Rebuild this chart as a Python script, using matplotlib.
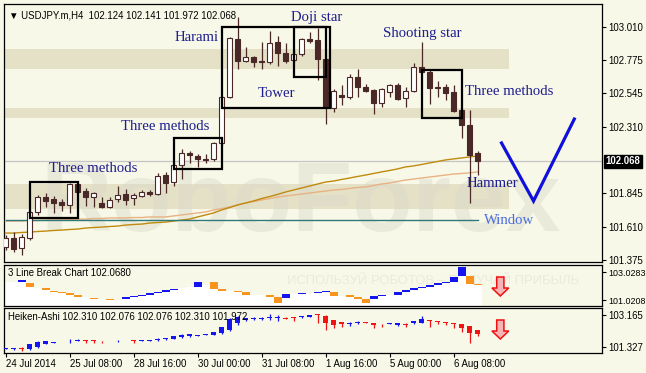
import numpy as np
import matplotlib.pyplot as plt
from matplotlib.patches import Rectangle, Polygon
from matplotlib.transforms import blended_transform_factory

plt.rcParams['font.family'] = ['Liberation Sans', 'DejaVu Sans']

# ---- USDJPY H4 candles ----
opens = [101.466, 101.529, 101.459, 101.529, 101.712, 101.817, 101.803, 101.782, 101.761, 101.908,
         101.859, 101.817, 101.775, 101.747, 101.803, 101.838, 101.810, 101.824, 101.852, 101.838,
         101.971, 101.922, 102.042, 102.126, 102.105, 102.080, 102.084, 102.196, 102.519, 102.926,
         102.771, 102.800, 102.771, 102.764, 102.905, 102.828, 102.778, 102.821, 102.926, 102.919,
         102.785, 102.442, 102.533, 102.519, 102.659, 102.589, 102.568, 102.477, 102.554, 102.603,
         102.512, 102.561, 102.729, 102.694, 102.589, 102.589, 102.554, 102.428, 102.322, 102.124]
highs = [101.550, 101.571, 101.557, 101.726, 101.831, 101.845, 101.824, 101.803, 101.915, 101.915,
         101.880, 101.852, 101.817, 101.817, 101.894, 101.873, 101.845, 101.866, 101.866, 101.986,
         101.993, 102.056, 102.154, 102.140, 102.119, 102.119, 102.203, 102.526, 102.940, 103.080,
         102.870, 102.807, 102.905, 102.982, 102.947, 102.898, 102.849, 102.933, 102.975, 103.003,
         102.792, 102.575, 102.603, 102.680, 102.715, 102.610, 102.575, 102.582, 102.610, 102.617,
         102.589, 102.757, 102.905, 102.708, 102.631, 102.610, 102.603, 102.435, 102.428, 102.141]
lows = [101.445, 101.431, 101.410, 101.515, 101.691, 101.747, 101.705, 101.719, 101.705, 101.845,
        101.754, 101.747, 101.740, 101.740, 101.782, 101.761, 101.761, 101.817, 101.824, 101.831,
        101.845, 101.894, 101.943, 102.056, 102.028, 102.056, 102.070, 102.182, 102.512, 102.715,
        102.764, 102.729, 102.715, 102.750, 102.736, 102.757, 102.764, 102.807, 102.898, 102.638,
        102.329, 102.414, 102.463, 102.505, 102.519, 102.554, 102.400, 102.449, 102.519, 102.498,
        102.449, 102.554, 102.687, 102.470, 102.519, 102.498, 102.414, 102.231, 101.775, 101.972]
closes = [101.529, 101.452, 101.536, 101.712, 101.817, 101.789, 101.775, 101.761, 101.908, 101.852,
          101.817, 101.845, 101.747, 101.796, 101.831, 101.796, 101.831, 101.852, 101.838, 101.964,
          101.915, 102.042, 102.126, 102.112, 102.084, 102.077, 102.196, 102.519, 102.933, 102.771,
          102.800, 102.764, 102.764, 102.898, 102.828, 102.771, 102.821, 102.926, 102.912, 102.785,
          102.449, 102.561, 102.519, 102.659, 102.589, 102.561, 102.477, 102.575, 102.603, 102.505,
          102.561, 102.729, 102.694, 102.582, 102.582, 102.547, 102.421, 102.322, 102.112, 102.068]

# moving averages
ma_gold = [101.564, 101.564, 101.568, 101.571, 101.575, 101.578, 101.582, 101.585, 101.589, 101.592,
           101.599, 101.603, 101.606, 101.610, 101.613, 101.620, 101.624, 101.627, 101.634, 101.638,
           101.641, 101.648, 101.655, 101.662, 101.677, 101.691, 101.705, 101.726, 101.743, 101.761,
           101.775, 101.789, 101.806, 101.820, 101.835, 101.852, 101.866, 101.880, 101.894, 101.908,
           101.922, 101.929, 101.940, 101.950, 101.961, 101.971, 101.982, 101.993, 102.003, 102.014,
           102.028, 102.035, 102.045, 102.056, 102.066, 102.077, 102.084, 102.091, 102.098, 102.105]
ma_light = [101.648, 101.648, 101.648, 101.652, 101.652, 101.655, 101.655, 101.659, 101.659, 101.662,
            101.662, 101.666, 101.666, 101.670, 101.670, 101.670, 101.673, 101.673, 101.677, 101.677,
            101.677, 101.684, 101.691, 101.698, 101.705, 101.712, 101.726, 101.736, 101.747, 101.761,
            101.775, 101.785, 101.796, 101.806, 101.817, 101.824, 101.831, 101.838, 101.845, 101.852,
            101.859, 101.866, 101.870, 101.877, 101.884, 101.887, 101.898, 101.908, 101.915, 101.926,
            101.936, 101.943, 101.950, 101.957, 101.964, 101.971, 101.978, 101.982, 101.986, 101.993]
window_level = 101.655
last_price = 102.068

zones = [(102.715, 102.856), (102.371, 102.442), (101.733, 101.908)]
zone_end = 62.9

# pattern boxes: (first candle, last candle, low, high)
boxes = [(3, 9, 101.670, 101.922), (21, 27, 102.014, 102.231), (27, 40.6, 102.442, 103.010),
         (36, 40, 102.659, 103.010), (52, 57, 102.371, 102.708)]
labels = [("Harami", 23.9, 102.936), ("Doji star", 38.9, 103.077), ("Shooting star", 52.1, 102.961),
          ("Three methods", 62.9, 102.554), ("Tower", 33.9, 102.540),
          ("Three methods", 19.9, 102.315), ("Three methods", 10.9, 102.020),
          ("Hammer", 60.9, 101.912)]
forecast_x = [62, 66, 71.1]
forecast_y = [102.196, 101.789, 102.364]

price_ticks = [103.010, 102.775, 102.545, 102.310, 101.845, 101.610, 101.375]

# ---- 3 line break ----
lb_lo = [102.311, 102.311, 102.290, 101.931, 101.917, 101.738, 101.573, 101.501, 101.400, 101.257,
         101.236, 101.092, 101.092, 101.042, 101.056, 101.071, 101.257, 101.329, 101.400, 101.501,
         101.594, 101.738, 101.881, 101.953, 101.974, 102.096, 101.831, 101.687, 101.687, 101.573,
         101.400, 101.400, 101.400, 101.214, 100.784, 101.185, 101.451, 101.472, 101.522, 101.522,
         101.594, 101.329, 101.343, 101.257, 101.092, 100.827, 101.114, 101.329, 101.400, 101.400,
         101.616, 101.738, 101.881, 101.974, 102.118, 102.240, 102.333, 102.742, 102.168, 102.096]
lb_hi = [102.311, 102.311, 102.455, 102.261, 101.917, 101.881, 101.687, 101.616, 101.522, 101.400,
         101.236, 101.185, 101.092, 101.114, 101.056, 101.257, 101.329, 101.400, 101.501, 101.594,
         101.738, 101.831, 101.881, 101.953, 102.311, 102.096, 102.311, 101.831, 101.687, 101.687,
         101.594, 101.400, 101.400, 101.400, 101.214, 101.451, 101.451, 101.544, 101.522, 101.616,
         101.687, 101.594, 101.343, 101.357, 101.257, 101.092, 101.329, 101.400, 101.400, 101.616,
         101.738, 101.881, 101.974, 102.118, 102.240, 102.333, 102.691, 103.408, 102.742, 102.168]
lb_dir = [0, 0, 1, -1, 0, -1, -1, -1, -1, -1,
          0, -1, 0, -1, 0, 1, 1, 1, 1, 1,
          1, 1, 0, 0, 1, 0, -1, -1, 0, -1,
          -1, 0, 0, -1, -1, 1, 0, 1, 0, 1,
          1, -1, 0, -1, -1, -1, 1, 1, 0, 1,
          1, 1, 1, 1, 1, 1, 1, 1, -1, -1]
lb_ticks = [103.0283, 101.0208]

# ---- Heiken-Ashi ----
ha_open = [101.230, 101.249, 101.268, 101.211, 101.325, 101.496, 101.591, 101.610, 101.667, 101.685,
           101.723, 101.704, 101.685, 101.676, 101.667, 101.676, 101.723, 101.704, 101.704, 101.742,
           101.780, 101.818, 101.894, 101.970, 101.970, 102.027, 102.046, 102.122, 102.311, 102.691,
           102.899, 102.918, 102.956, 103.013, 102.994, 102.994, 103.051, 103.032, 103.070, 103.203,
           103.108, 102.880, 102.767, 102.653, 102.729, 102.767, 102.729, 102.672, 102.672, 102.615,
           102.672, 102.691, 102.691, 102.862, 102.805, 102.767, 102.729, 102.653, 102.539, 102.310]
ha_high = [101.287, 101.306, 101.325, 101.515, 101.667, 101.685, 101.648, 101.629, 101.780, 101.780,
           101.742, 101.723, 101.704, 101.685, 101.742, 101.704, 101.742, 101.742, 101.742, 101.837,
           101.875, 101.970, 102.084, 102.084, 102.008, 102.065, 102.216, 102.501, 102.975, 103.108,
           103.013, 103.032, 103.070, 103.203, 103.165, 103.032, 103.070, 103.108, 103.165, 103.222,
           103.146, 102.899, 102.767, 102.786, 102.843, 102.786, 102.729, 102.672, 102.710, 102.729,
           102.691, 102.843, 103.108, 102.880, 102.824, 102.786, 102.729, 102.653, 102.539, 102.310]
ha_low = [101.211, 101.173, 101.135, 101.173, 101.306, 101.496, 101.591, 101.610, 101.553, 101.685,
          101.591, 101.553, 101.553, 101.667, 101.610, 101.667, 101.553, 101.685, 101.667, 101.685,
          101.742, 101.780, 101.837, 101.932, 101.951, 102.008, 102.027, 102.084, 102.273, 102.596,
          102.824, 102.880, 102.880, 102.880, 102.843, 102.918, 102.843, 102.975, 103.032, 102.729,
          102.311, 102.444, 102.501, 102.539, 102.653, 102.691, 102.444, 102.501, 102.672, 102.539,
          102.501, 102.653, 102.691, 102.501, 102.653, 102.596, 102.444, 102.216, 101.591, 101.972]
ha_close = [101.268, 101.287, 101.249, 101.496, 101.648, 101.685, 101.648, 101.629, 101.704, 101.761,
            101.667, 101.685, 101.667, 101.667, 101.704, 101.685, 101.685, 101.742, 101.742, 101.818,
            101.856, 101.951, 102.046, 102.065, 101.989, 102.046, 102.179, 102.463, 102.918, 103.070,
            102.994, 102.975, 102.994, 103.070, 103.051, 102.956, 103.013, 103.108, 103.146, 103.146,
            102.729, 102.596, 102.653, 102.691, 102.767, 102.729, 102.596, 102.634, 102.710, 102.691,
            102.596, 102.824, 102.918, 102.805, 102.748, 102.710, 102.634, 102.406, 102.160, 102.076]
ha_ticks = [103.165, 101.327]

time_pos = [0, 8, 16, 24, 32, 40, 48, 56]
time_labels = ["24 Jul 2014", "25 Jul 08:00", "28 Jul 16:00", "30 Jul 00:00",
               "31 Jul 08:00", "1 Aug 16:00", "5 Aug 00:00", "6 Aug 08:00"]

BG = '#F8F8E8'
ZONE = '#E4E1C6'
DARK = '#4A2828'
BLUE = '#1414EE'
RED = '#F01414'
ORANGE = '#F7941D'
LABEL = '#1E1E90'

W, H = 646, 373
fig = plt.figure(figsize=(6.46, 3.73), dpi=100, facecolor=BG)


def place(x0, y0, x1, y1):
    return [x0 / W, 1 - y1 / H, (x1 - x0) / W, (y1 - y0) / H]


ax = fig.add_axes(place(4, 4, 602, 262))
ax1 = fig.add_axes(place(4, 264.5, 602, 306))
ax2 = fig.add_axes(place(4, 308, 602, 353))
xlim = (-0.19, 74.56)

for a in (ax, ax1, ax2):
    a.set_facecolor(BG)
    a.set_xlim(*xlim)
    for s in a.spines.values():
        s.set_color('black')
        s.set_linewidth(0.9)
    a.yaxis.tick_right()
    a.tick_params(axis='y', direction='out', length=3, width=0.8, pad=1.5, labelsize=6.9)
    a.set_xticks([])

x = np.arange(len(opens))

# ---- main chart ----
ax.set_ylim(101.361, 103.171)
for lo, hi in zones:
    ax.add_patch(Rectangle((xlim[0], lo), zone_end - xlim[0], hi - lo, fc=ZONE, ec='none', zorder=1))

ax.text(4.3, 101.578, "RoboForex", fontsize=71, fontweight='bold', color='#DADACB', alpha=0.45,
        ha='left', va='baseline', zorder=2)

ax.axhline(last_price, color='#C4C4C4', lw=0.9, zorder=2.5)
ax.plot(x, ma_light, color='#E8B284', lw=1.0, zorder=3)
ax.plot(x, ma_gold, color='#C08A10', lw=1.0, zorder=3)
ax.plot([x[0], x[-1]], [window_level, window_level], color='#2E7A7A', lw=1.0, zorder=3)

for i in x:
    o, h, l, c = opens[i], highs[i], lows[i], closes[i]
    ax.vlines(i, l, h, color=DARK, lw=0.9, zorder=4)
    lo, hi = min(o, c), max(o, c)
    if hi - lo < 0.007:
        hi = lo + 0.007
    ax.add_patch(Rectangle((i - 0.28, lo), 0.56, hi - lo, fc='white' if c > o else DARK,
                           ec=DARK, lw=0.8, zorder=5))

for x0, x1, lo, hi in boxes:
    ax.add_patch(Rectangle((x0, lo), x1 - x0, hi - lo, fill=False, ec='black', lw=1.6, zorder=6))

for txt, tx, ty in labels:
    ax.text(tx, ty, txt, family='Liberation Serif', fontsize=10.6, color=LABEL,
            ha='center', va='center', zorder=7)
ax.text(62.9, window_level, "Window", family='Liberation Serif', fontsize=10.6,
        color='#4A6CE0', ha='center', va='center', zorder=7)

ax.plot(forecast_x, forecast_y, color='#1010DD', lw=2.3, solid_joinstyle='miter', zorder=7)

ax.set_yticks(price_ticks)
ax.set_yticklabels([f"{v:.3f}" for v in price_ticks])
tr = blended_transform_factory(ax.transAxes, ax.transData)
ax.text(1.006, last_price, f"{last_price:.3f}", transform=tr, color='white', fontsize=6.9,
        fontweight='bold', ha='left', va='center',
        bbox=dict(fc='black', ec='black', pad=1.2), zorder=8, clip_on=False)
ax.text(0.008, 0.975, "\u25BC USDJPY.m,H4  102.124 102.141 101.972 102.068", transform=ax.transAxes,
        fontsize=6.9, ha='left', va='top', color='black', zorder=8)

# ---- 3 line break ----
lb_bottom, lb_top = 100.591, 103.566
ax1.set_ylim(lb_bottom, lb_top)
ax1.text(35.2, 102.40, "\u0418\u0421\u041f\u041e\u041b\u042c\u0417\u0423\u0419 \u0420\u041e\u0411\u041e\u0422\u041e\u0412 \u2013 "
         "\u041f\u041e\u041b\u0423\u0427\u0410\u0419 \u041f\u0420\u0418\u0411\u042b\u041b\u042c",
         fontsize=9.4, color='#EBEBDD', ha='left', va='center', zorder=1)
edges = np.append(x - 0.5, x[-1] + 0.5)
ax1.stairs(lb_lo, edges, baseline=lb_bottom, fill=True, color='white', zorder=2)
lo_a, hi_a, d_a = np.array(lb_lo), np.array(lb_hi), np.array(lb_dir)
for d, col in ((1, BLUE), (-1, ORANGE)):
    m = d_a == d
    ax1.bar(x[m], hi_a[m] - lo_a[m], bottom=lo_a[m], width=1.0, color=col, lw=0, zorder=3)
ax1.set_yticks(lb_ticks)
ax1.set_yticklabels([f"{v:.4f}" for v in lb_ticks], fontsize=6.4)
ax1.text(0.007, 0.80, "3 Line Break Chart 102.0680", transform=ax1.transAxes, fontsize=6.9,
         ha='left', va='center', zorder=5)

# ---- Heiken-Ashi ----
ax2.set_ylim(101.003, 103.563)
for i in x:
    o, h, l, c = ha_open[i], ha_high[i], ha_low[i], ha_close[i]
    col = BLUE if c >= o else RED
    ax2.vlines(i, l, h, color=col, lw=0.9, zorder=3)
    lo, hi = min(o, c), max(o, c)
    if hi - lo < 0.03:
        hi = lo + 0.03
    ax2.add_patch(Rectangle((i - 0.28, lo), 0.56, hi - lo, fc=col, ec='none', zorder=4))
ax2.set_yticks(ha_ticks)
ax2.set_yticklabels([f"{v:.3f}" for v in ha_ticks])
ax2.text(0.007, 0.80, "Heiken-Ashi 102.310 102.076 102.076 102.310 101.972", transform=ax2.transAxes,
         fontsize=6.9, ha='left', va='center', zorder=5)

ax2.set_xticks(time_pos)
ax2.set_xticklabels(time_labels, ha='left', fontsize=6.9)
ax2.tick_params(axis='x', direction='out', length=3, width=0.8, pad=1.5)


def down_arrow(a, xc, top, mid, bottom):
    pts = [(xc - 0.45, top), (xc + 0.45, top), (xc + 0.45, mid), (xc + 1.05, mid),
           (xc, bottom), (xc - 1.05, mid), (xc - 0.45, mid)]
    a.add_patch(Polygon(pts, closed=True, fc='#F7B4B4', ec='#F01010', lw=1.1, zorder=6))


down_arrow(ax1, 61.85, 102.670, 101.881, 101.307)
down_arrow(ax2, 61.85, 102.881, 102.255, 101.799)

fig.savefig('out.png', dpi=100, facecolor=BG)
